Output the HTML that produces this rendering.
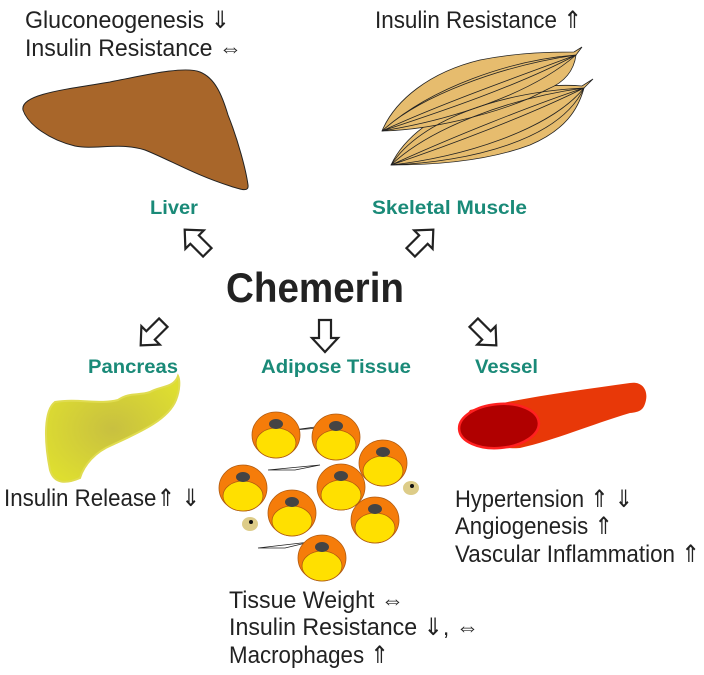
<!DOCTYPE html>
<html><head><meta charset="utf-8"><style>
html,body{margin:0;padding:0;background:#fff;width:704px;height:675px;overflow:hidden}
svg{display:block}
.t{font-family:"Liberation Sans",sans-serif;font-size:24px;fill:#222}
.g{font-family:"Liberation Sans",sans-serif;font-size:19px;font-weight:bold;fill:#1a8a78}
</style></head><body>
<svg width="704" height="675" viewBox="0 0 704 675" xmlns="http://www.w3.org/2000/svg">
<defs>
<radialGradient id="pg" cx="50%" cy="50%" r="60%"><stop offset="0" stop-color="#c8c040"/><stop offset="1" stop-color="#dede30"/></radialGradient>
<path id="ba" d="M-6,-16 L6,-16 L6,2 L13,2 L0,16 L-13,2 L-6,2 Z"/>
</defs>
<!-- top texts -->
<text class="t" x="25" y="28" textLength="205" lengthAdjust="spacingAndGlyphs">Gluconeogenesis ⇓</text>
<text class="t" x="25" y="56" textLength="217" lengthAdjust="spacingAndGlyphs">Insulin Resistance ⇔</text>
<text class="t" x="375" y="28" textLength="207" lengthAdjust="spacingAndGlyphs">Insulin Resistance ⇑</text>
<!-- liver -->
<path d="M23,110 C20,95 60,90 110,82 C150,74 185,66 200,72 C215,78 222,95 228,115 C238,140 246,170 248,185 C249,192 242,190 230,186 C195,175 170,160 145,150 C120,142 95,150 75,146 C50,140 28,125 23,110 Z" fill="#a8662a" stroke="#222" stroke-width="1"/>
<!-- muscle -->
<g stroke="#222" stroke-width="0.8" fill="#e6bc6e">
<path d="M391,165 C405,135 440,110 490,96 C530,86 560,84 582,86 L593,79 L584,88 C578,110 565,130 530,145 C490,160 440,165 391,165 Z"/>
<path d="M382,131 C395,100 430,72 480,60 C520,52 555,52 574,52 L582,47 L576,55 C574,70 565,82 548,89 L530,98 C490,115 430,130 382,131 Z"/>
<path d="M382,131 C440,112 520,85 576,55 M382,131 C440,104 520,76 576,55 M382,131 C450,120 530,95 576,55 M382,131 C420,96 500,66 576,55 M382,131 C430,88 510,60 576,55" fill="none"/>
<path d="M391,165 C450,145 530,115 584,88 M391,165 C450,138 530,106 584,88 M391,165 C460,158 550,130 584,88 M391,165 C430,128 510,98 584,88 M391,165 C420,120 500,92 584,88 M391,165 C470,162 560,140 584,88" fill="none"/>
</g>
<!-- labels -->
<text class="g" x="150" y="214" textLength="48" lengthAdjust="spacingAndGlyphs">Liver</text>
<text class="g" x="372" y="214" textLength="155" lengthAdjust="spacingAndGlyphs">Skeletal Muscle</text>
<text x="226" y="302" font-family="Liberation Sans,sans-serif" font-weight="bold" font-size="42" fill="#222" textLength="178" lengthAdjust="spacingAndGlyphs">Chemerin</text>
<text class="g" x="88" y="373" textLength="90" lengthAdjust="spacingAndGlyphs">Pancreas</text>
<text class="g" x="261" y="373" textLength="150" lengthAdjust="spacingAndGlyphs">Adipose Tissue</text>
<text class="g" x="475" y="373" textLength="63" lengthAdjust="spacingAndGlyphs">Vessel</text>
<!-- block arrows -->
<g fill="#fff" stroke="#222" stroke-width="2.2" stroke-linejoin="miter">
<use href="#ba" transform="translate(325,336)"/>
<use href="#ba" transform="translate(152,334) rotate(45)"/>
<use href="#ba" transform="translate(485,334) rotate(-45)"/>
<use href="#ba" transform="translate(196,241) rotate(135)"/>
<use href="#ba" transform="translate(422,241) rotate(-135)"/>
</g>
<!-- pancreas -->
<path d="M178,376 C174,388 160,386 150,392 C138,396 130,392 118,400 C100,405 78,398 55,402 C44,410 44,440 50,470 C54,484 66,484 80,478 C84,465 95,452 112,445 C140,432 168,420 176,400 C180,390 180,380 178,376 Z" fill="url(#pg)" stroke="#e0dc50" stroke-width="2"/>
<!-- vessel -->
<path d="M470,410 C520,398 580,390 630,383 C642,381 648,390 646,400 C644,410 640,412 630,413 C590,425 555,440 520,448 C490,450 460,440 459,426 Z" fill="#e83808"/>
<ellipse cx="499" cy="426" rx="40" ry="22" transform="rotate(-5 499 426)" fill="#b00000" stroke="#ff2020" stroke-width="2.5"/>
<!-- adipose -->
<g stroke="#222" stroke-width="0.8" fill="#fff">
<path d="M293,430 L345,423 L320,428 Z"/><path d="M268,470 L320,465 L295,470 Z"/><path d="M258,548 L310,542 L285,548 Z"/>
</g>
<g fill="#ddcc88"><ellipse cx="381" cy="451" rx="8" ry="7"/><ellipse cx="411" cy="488" rx="8" ry="7"/><ellipse cx="250" cy="524" rx="8" ry="7"/></g>
<g fill="#111"><circle cx="381" cy="449" r="2"/><circle cx="412" cy="486" r="2"/><circle cx="251" cy="522" r="2"/></g>
<g>
<g transform="translate(276,435)"><ellipse rx="24" ry="23" fill="#f57c0a" stroke="#b05a10" stroke-width="0.8"/><ellipse cy="8" rx="20" ry="15" fill="#ffe000" stroke="#b05a10" stroke-width="0.8"/><ellipse cy="-11" rx="7" ry="5" fill="#444"/></g>
<g transform="translate(336,437)"><ellipse rx="24" ry="23" fill="#f57c0a" stroke="#b05a10" stroke-width="0.8"/><ellipse cy="8" rx="20" ry="15" fill="#ffe000" stroke="#b05a10" stroke-width="0.8"/><ellipse cy="-11" rx="7" ry="5" fill="#444"/></g>
<g transform="translate(383,463)"><ellipse rx="24" ry="23" fill="#f57c0a" stroke="#b05a10" stroke-width="0.8"/><ellipse cy="8" rx="20" ry="15" fill="#ffe000" stroke="#b05a10" stroke-width="0.8"/><ellipse cy="-11" rx="7" ry="5" fill="#444"/></g>
<g transform="translate(243,488)"><ellipse rx="24" ry="23" fill="#f57c0a" stroke="#b05a10" stroke-width="0.8"/><ellipse cy="8" rx="20" ry="15" fill="#ffe000" stroke="#b05a10" stroke-width="0.8"/><ellipse cy="-11" rx="7" ry="5" fill="#444"/></g>
<g transform="translate(341,487)"><ellipse rx="24" ry="23" fill="#f57c0a" stroke="#b05a10" stroke-width="0.8"/><ellipse cy="8" rx="20" ry="15" fill="#ffe000" stroke="#b05a10" stroke-width="0.8"/><ellipse cy="-11" rx="7" ry="5" fill="#444"/></g>
<g transform="translate(292,513)"><ellipse rx="24" ry="23" fill="#f57c0a" stroke="#b05a10" stroke-width="0.8"/><ellipse cy="8" rx="20" ry="15" fill="#ffe000" stroke="#b05a10" stroke-width="0.8"/><ellipse cy="-11" rx="7" ry="5" fill="#444"/></g>
<g transform="translate(375,520)"><ellipse rx="24" ry="23" fill="#f57c0a" stroke="#b05a10" stroke-width="0.8"/><ellipse cy="8" rx="20" ry="15" fill="#ffe000" stroke="#b05a10" stroke-width="0.8"/><ellipse cy="-11" rx="7" ry="5" fill="#444"/></g>
<g transform="translate(322,558)"><ellipse rx="24" ry="23" fill="#f57c0a" stroke="#b05a10" stroke-width="0.8"/><ellipse cy="8" rx="20" ry="15" fill="#ffe000" stroke="#b05a10" stroke-width="0.8"/><ellipse cy="-11" rx="7" ry="5" fill="#444"/></g>
</g>
<!-- lower texts -->
<text class="t" x="4" y="506" textLength="196" lengthAdjust="spacingAndGlyphs">Insulin Release⇑ ⇓</text>
<text class="t" x="455" y="507" textLength="178" lengthAdjust="spacingAndGlyphs">Hypertension ⇑ ⇓</text>
<text class="t" x="455" y="534" textLength="158" lengthAdjust="spacingAndGlyphs">Angiogenesis ⇑</text>
<text class="t" x="455" y="562" textLength="245" lengthAdjust="spacingAndGlyphs">Vascular Inflammation ⇑</text>
<text class="t" x="229" y="608" textLength="175" lengthAdjust="spacingAndGlyphs">Tissue Weight ⇔</text>
<text class="t" x="229" y="635" textLength="250" lengthAdjust="spacingAndGlyphs">Insulin Resistance  ⇓, ⇔</text>
<text class="t" x="229" y="663" textLength="160" lengthAdjust="spacingAndGlyphs">Macrophages ⇑</text>
</svg>
</body></html>
